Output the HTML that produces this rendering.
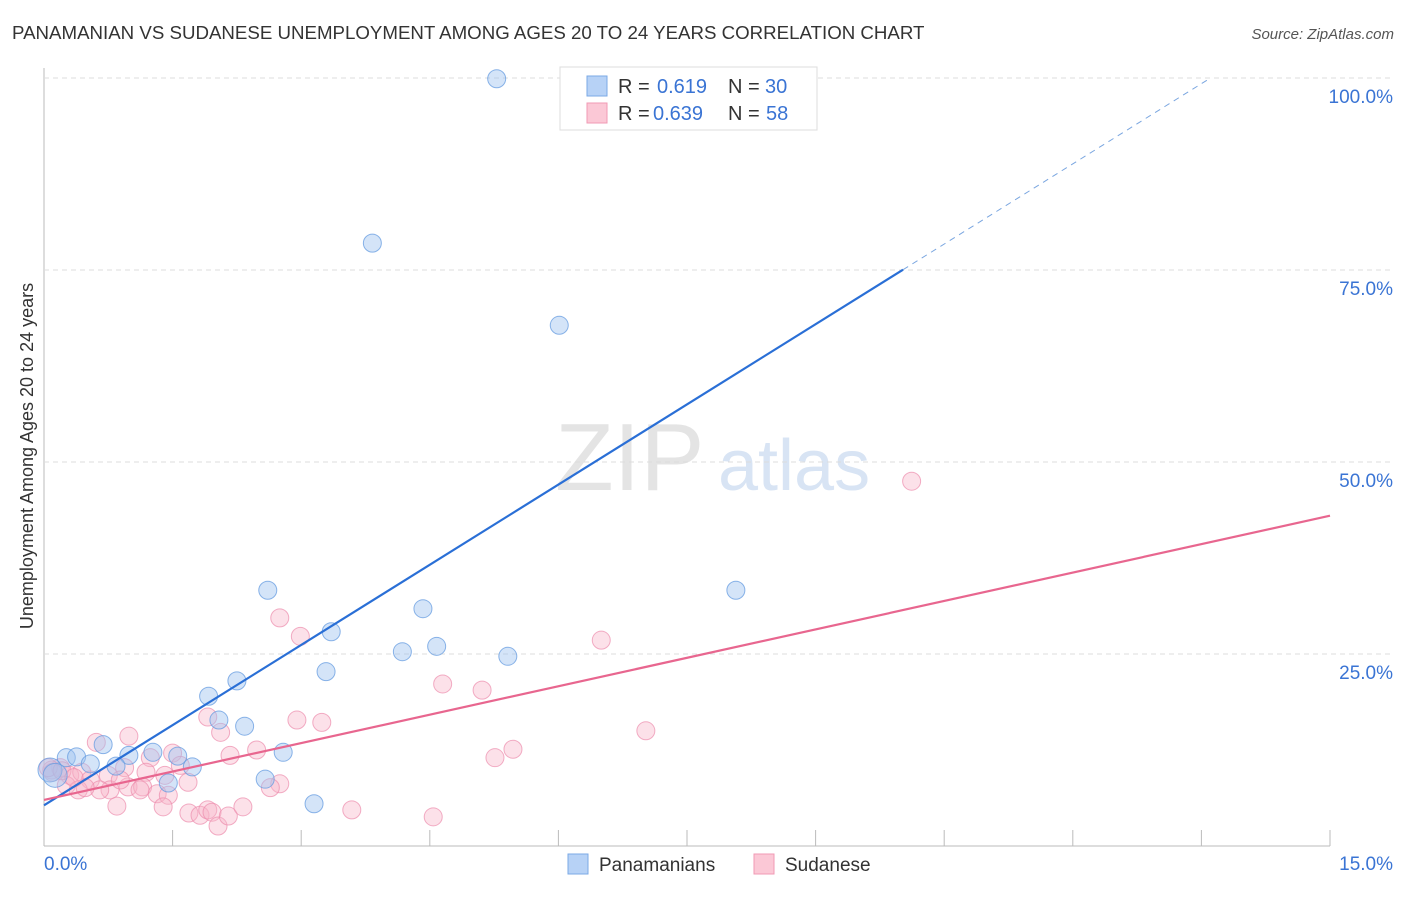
<!DOCTYPE html>
<html><head><meta charset="utf-8"><style>
body{margin:0;background:#fff;font-family:"Liberation Sans",sans-serif;}
svg text{font-family:"Liberation Sans",sans-serif;}
</style></head><body>
<svg id="c" width="1406" height="892" xmlns="http://www.w3.org/2000/svg">
<text x="12" y="39" font-size="18.7" fill="#333">PANAMANIAN VS SUDANESE UNEMPLOYMENT AMONG AGES 20 TO 24 YEARS CORRELATION CHART</text>
<text x="1394" y="39" font-size="15" fill="#555" text-anchor="end" font-style="italic">Source: ZipAtlas.com</text>
<text x="33" y="456" font-size="18" fill="#333" text-anchor="middle" transform="rotate(-90 33 456)">Unemployment Among Ages 20 to 24 years</text>
<g><text x="555" y="490" font-size="96" fill="#e4e4e4" font-family="Liberation Serif, serif">ZIP</text><text x="718" y="490" font-size="72" fill="#d8e4f4">atlas</text></g>
<g id="grid"></g><g id="marks"></g>
<g>
<rect x="560" y="67" width="257" height="63" fill="#fff" stroke="#ddd"/>
<rect x="587" y="76" width="20" height="20" fill="#b7d2f6" stroke="#7ba9e6"/>
<rect x="587" y="103" width="20" height="20" fill="#fbc8d6" stroke="#f09ab4"/>
<text x="618" y="93" font-size="20" fill="#333">R =</text>
<text x="657" y="93" font-size="20" fill="#3a74d4">0.619</text>
<text x="728" y="93" font-size="20" fill="#333">N =</text>
<text x="765" y="93" font-size="20" fill="#3a74d4">30</text>
<text x="618" y="120" font-size="20" fill="#333">R =</text>
<text x="653" y="120" font-size="20" fill="#3a74d4">0.639</text>
<text x="728" y="120" font-size="20" fill="#333">N =</text>
<text x="766" y="120" font-size="20" fill="#3a74d4">58</text>
</g>
<g>
<rect x="568" y="854" width="20" height="20" fill="#b7d2f6" stroke="#7ba9e6"/>
<text x="599" y="871" font-size="19" fill="#333">Panamanians</text>
<rect x="754" y="854" width="20" height="20" fill="#fbc8d6" stroke="#f09ab4"/>
<text x="785" y="871" font-size="19" fill="#333">Sudanese</text>
</g>
</svg>
<script>
const xTicks=[0,15];
const yTicks=[25,50,75,100];
const blueX=[5.28,3.83,6.01,2.61,8.07,4.42,3.35,4.18,4.58,5.41,3.29,2.25,1.92,2.04,2.34,0.69,1.56,0.99,1.27,0.26,0.38,0.54,0.84,1.73,2.79,1.45,2.58,3.15,0.07,0.13];
const blueY=[99.9,78.5,67.8,33.3,33.3,30.9,27.9,25.3,26.0,24.7,22.7,21.5,19.5,16.4,15.6,13.2,11.7,11.8,12.2,11.5,11.6,10.7,10.4,10.3,12.2,8.2,8.7,5.5,9.9,9.2];
const pinkX=[10.12,2.75,2.99,6.50,4.65,5.11,1.91,2.95,3.24,7.02,0.99,0.61,2.06,5.47,5.26,2.48,2.17,1.50,1.24,1.59,0.94,1.19,0.75,0.19,0.09,0.30,0.44,0.54,0.26,0.40,0.77,0.98,1.15,1.32,1.45,1.68,2.75,2.64,0.10,0.05,0.21,0.85,1.39,1.69,1.82,1.91,1.96,2.03,2.15,2.32,3.59,4.54,1.12,0.65,0.48,0.35,0.89,1.41];
const pinkY=[47.5,29.7,27.3,26.8,21.1,20.3,16.8,16.4,16.1,15.0,14.3,13.5,14.8,12.6,11.5,12.5,11.8,12.1,11.5,10.5,10.2,9.6,9.2,10.2,9.9,9.2,9.6,8.6,7.9,7.3,7.3,7.7,7.7,6.8,6.6,8.3,8.1,7.6,9.6,10.2,9.8,5.2,5.1,4.3,4.0,4.7,4.4,2.6,3.9,5.1,4.7,3.8,7.3,7.3,7.6,8.9,8.6,9.2];
const blueLine=[5.3,6.96];
const pinkLine=[6.0,2.467];
const X=v=>44+v/15*1286, Y=v=>846-v/100*768;
const NS='http://www.w3.org/2000/svg';
function mk(p,t,a){const e=document.createElementNS(NS,t);for(const k in a)e.setAttribute(k,a[k]);p.appendChild(e);return e;}
const g=document.getElementById('grid'), m=document.getElementById('marks');
let ax=mk(g,'line',{x1:44,y1:68,x2:44,y2:846,stroke:'#bbb'});


let bx=mk(g,'line',{x1:44,y1:846,x2:1330,y2:846,stroke:'#bbb'});


for(let i=1;i<=10;i++){const t=mk(g,'line',{x1:X(i*1.5),x2:X(i*1.5),y1:830,y2:846,stroke:'#bbb'});

}
yTicks.forEach(v=>{const l=mk(g,'line',{x1:44,x2:1394,y1:Y(v),y2:Y(v),stroke:'#ddd','stroke-dasharray':'5,4'});


const t=mk(g,'text',{x:1393,y:Y(v)+25,'font-size':19,fill:'#3a74d4','text-anchor':'end'});t.textContent=v.toFixed(1)+'%';

});
xTicks.forEach((v,i)=>{const t=mk(g,'text',{x:i?1393:44,y:870,'font-size':19,fill:'#3a74d4','text-anchor':i?'end':'start'});t.textContent=v.toFixed(1)+'%';

});
pinkX.forEach((x,i)=>{const c=mk(m,'circle',{cx:X(x),cy:Y(pinkY[i]),r:9,fill:'rgba(248,180,200,0.4)',stroke:'rgba(236,140,172,0.7)','stroke-width':1});

});
blueX.forEach((x,i)=>{const c=mk(m,'circle',{cx:X(x),cy:Y(blueY[i]),r:x<0.2?12:9,fill:'rgba(160,196,240,0.45)',stroke:'rgba(100,155,224,0.75)','stroke-width':1});

});
const bEnd=10.02, bTop=(100-blueLine[0])/blueLine[1];
let l1=mk(m,'line',{x1:X(0),y1:Y(blueLine[0]),x2:X(bEnd),y2:Y(blueLine[0]+blueLine[1]*bEnd),stroke:'#2a6fd6','stroke-width':2.2});


let l2=mk(m,'line',{x1:X(bEnd),y1:Y(blueLine[0]+blueLine[1]*bEnd),x2:X(bTop),y2:Y(100),stroke:'#7aa6e0','stroke-width':1,'stroke-dasharray':'6,5'});


let l3=mk(m,'line',{x1:X(0),y1:Y(pinkLine[0]),x2:X(15),y2:Y(pinkLine[0]+pinkLine[1]*15),stroke:'#e8668f','stroke-width':2.2});


</script>
</body></html>
